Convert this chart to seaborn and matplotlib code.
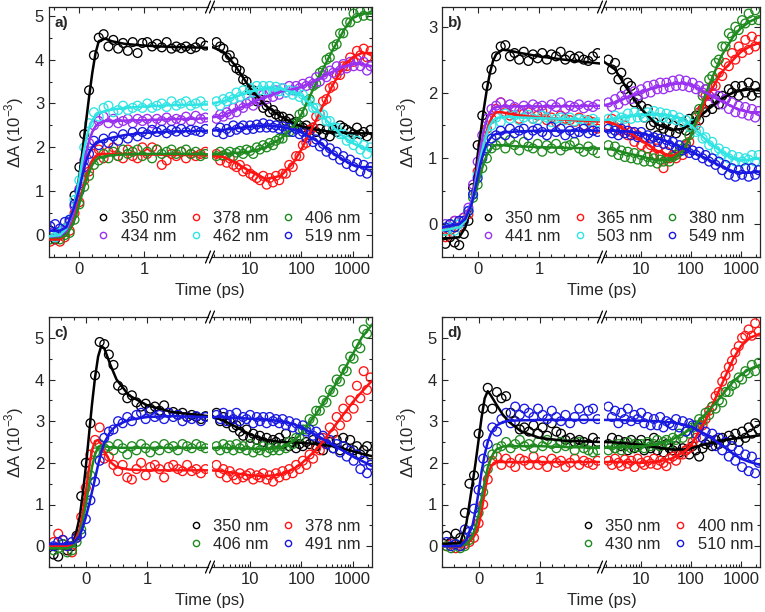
import matplotlib

matplotlib.use("Agg")
import matplotlib.pyplot as plt
import seaborn as sns
from matplotlib import ticker
from matplotlib.lines import Line2D

# Plot style
sns.set_style("ticks")
plt.rcParams["font.family"] = ["Liberation Sans", "DejaVu Sans"]
plt.rcParams["mathtext.fontset"] = "custom"
plt.rcParams["mathtext.rm"] = "Liberation Sans"
plt.rcParams["axes.linewidth"] = 0.9

W, H = 765, 612

# Time grids (ps): left segment linear, right segment log
T_LEFT = [-0.525, -0.45, -0.375, -0.3, -0.225, -0.15, -0.075, 0.0, 0.075, 0.15,
          0.225, 0.3, 0.375, 0.45, 0.525, 0.6, 0.675, 0.75, 0.825, 0.9,
          0.975, 1.05, 1.125, 1.2, 1.275, 1.35, 1.425, 1.5, 1.575, 1.65,
          1.725, 1.8, 1.875, 1.95]
T_RIGHT = [2.2, 2.6, 3.0, 3.5, 4.0, 4.7, 5.4, 6.3, 7.3, 8.5,
           10, 11.5, 13.5, 15.5, 18, 21, 24, 28, 32, 37,
           43, 50, 58, 68, 79, 92, 107, 125, 145, 170,
           195, 230, 265, 310, 360, 420, 490, 570, 660, 770,
           900, 1050, 1220, 1420, 1650, 1920, 2250]
FIT_T_LEFT = [-0.6, -0.3, -0.2, -0.1, -0.05, 0.0, 0.05, 0.1, 0.15, 0.2,
              0.25, 0.3, 0.4, 0.5, 0.7, 1.0, 1.4, 2.0]
FIT_T_RIGHT = [1.7, 3, 5, 10, 20, 40, 70, 100, 200, 400, 700, 1000, 1500, 2400]

BLACK = "#000000"
RED = "#ff1414"
GREEN = "#1f8a1f"
PURPLE = "#9a30f0"
CYAN = "#30e4e4"
BLUE = "#1818e0"

# ---------------- panel a ----------------
A350_L = [0.05, 0.1, -0.1, 0.05, 0.15, 0.3, 0.9, 1.55, 2.3, 3.3, 4.1, 4.5, 4.58, 4.3, 4.45, 4.25, 4.38, 4.2, 4.4, 4.15,
          4.38, 4.4, 4.3, 4.36, 4.28, 4.4, 4.25, 4.3, 4.26, 4.3, 4.24, 4.28, 4.4, 4.32]
A378_L = [-0.1, -0.15, -0.05, -0.15, -0.05, 0.1, 0.5, 0.75, 1.25, 1.45, 1.85, 1.95, 1.75, 1.9, 2.0, 1.8, 1.75, 1.95, 1.8, 1.75,
          2.0, 1.85, 2.0, 1.95, 1.6, 1.7, 1.85, 1.8, 1.9, 1.75, 1.85, 1.8, 1.85, 1.9]
A406_L = [-0.05, -0.1, -0.05, -0.1, 0.0, 0.05, 0.35, 0.7, 1.1, 1.35, 1.6, 1.7, 1.85, 1.75, 1.9, 1.8, 1.95, 1.85, 1.9, 1.95,
          1.8, 1.9, 1.75, 1.95, 1.85, 1.9, 1.95, 1.85, 1.9, 1.95, 1.85, 1.9, 1.8, 1.85]
A434_L = [0.0, 0.05, -0.05, 0.05, 0.1, 0.3, 0.65, 1.05, 1.7, 2.1, 2.5, 2.6, 2.7, 2.55, 2.65, 2.55, 2.6, 2.65, 2.55, 2.65,
          2.6, 2.65, 2.55, 2.65, 2.6, 2.68, 2.6, 2.65, 2.62, 2.7, 2.6, 2.72, 2.65, 2.68]
A462_L = [0.05, 0.0, -0.05, 0.05, 0.15, 0.35, 0.8, 1.25, 2.0, 2.55, 2.8, 2.7, 2.9, 2.95, 2.8, 2.85, 2.95, 2.85, 2.9, 2.95,
          2.9, 3.0, 2.9, 2.95, 3.0, 2.92, 3.05, 2.95, 3.0, 3.05, 2.95, 3.0, 3.05, 2.95]
A519_L = [0.15, 0.2, 0.25, 0.15, 0.3, 0.35, 0.7, 1.0, 1.55, 1.85, 2.15, 2.05, 2.2, 2.1, 2.25, 2.15, 2.3, 2.2, 2.35, 2.25,
          2.35, 2.3, 2.4, 2.35, 2.4, 2.32, 2.4, 2.36, 2.42, 2.35, 2.4, 2.38, 2.35, 2.42]
A350_R = [4.4, 4.3, 4.25, 4.05, 4.1, 3.95, 3.8, 3.75, 3.55, 3.5, 3.3, 3.3, 3.05, 3.1, 2.9, 2.95, 2.8, 2.85, 2.75, 2.7,
          2.7, 2.6, 2.65, 2.55, 2.58, 2.5, 2.45, 2.5, 2.4, 2.45, 2.35, 2.42, 2.3, 2.4, 2.25, 2.4, 2.35, 2.5, 2.45, 2.4,
          2.35, 2.3, 2.45, 2.3, 2.35, 2.25, 2.4]
A378_R = [1.85, 1.7, 1.8, 1.65, 1.75, 1.6, 1.55, 1.6, 1.45, 1.5, 1.4, 1.35, 1.3, 1.25, 1.35, 1.15, 1.3, 1.2, 1.35, 1.25,
          1.4, 1.4, 1.6, 1.55, 1.8, 1.8, 2.05, 2.1, 2.4, 2.45, 2.7, 2.75, 3.05, 3.1, 3.35, 3.4, 3.65, 3.65, 3.85, 3.85,
          4.05, 3.95, 4.2, 4.1, 4.25, 4.05, 4.2]
A406_R = [1.8, 1.9, 1.82, 1.85, 1.9, 1.8, 1.88, 1.92, 1.85, 1.95, 1.92, 1.85, 2.0, 1.95, 2.05, 2.0, 2.1, 2.05, 2.15, 2.2,
          2.2, 2.35, 2.35, 2.5, 2.55, 2.75, 2.8, 3.05, 3.1, 3.4, 3.45, 3.7, 3.75, 4.0, 4.05, 4.3, 4.35, 4.6, 4.6, 4.85,
          4.85, 5.05, 4.95, 5.1, 5.0, 5.15, 5.0]
A434_R = [2.65, 2.75, 2.7, 2.8, 2.75, 2.9, 2.8, 2.95, 2.9, 3.0, 3.05, 2.95, 3.1, 3.05, 3.2, 3.1, 3.25, 3.15, 3.3, 3.2,
          3.35, 3.25, 3.4, 3.3, 3.4, 3.35, 3.45, 3.4, 3.5, 3.45, 3.6, 3.5, 3.65, 3.6, 3.75, 3.7, 3.85, 3.75, 3.9, 3.8,
          3.95, 3.85, 4.0, 3.85, 3.95, 3.75, 3.85]
A462_R = [3.05, 2.95, 3.1, 3.05, 3.15, 3.1, 3.25, 3.15, 3.3, 3.2, 3.35, 3.25, 3.4, 3.3, 3.4, 3.3, 3.4, 3.3, 3.38, 3.28,
          3.35, 3.25, 3.3, 3.2, 3.28, 3.15, 3.2, 3.05, 3.05, 2.9, 2.9, 2.75, 2.75, 2.6, 2.6, 2.45, 2.45, 2.3, 2.3, 2.15,
          2.2, 2.05, 2.15, 1.95, 2.05, 1.85, 2.0]
A519_R = [2.35, 2.45, 2.3, 2.42, 2.35, 2.5, 2.4, 2.45, 2.5, 2.4, 2.5, 2.42, 2.52, 2.45, 2.55, 2.45, 2.52, 2.45, 2.5, 2.42,
          2.48, 2.4, 2.45, 2.35, 2.42, 2.3, 2.35, 2.22, 2.28, 2.12, 2.18, 2.02, 2.08, 1.9, 1.98, 1.82, 1.9, 1.72, 1.8, 1.62,
          1.72, 1.55, 1.65, 1.45, 1.6, 1.4, 1.55]
A350_FL = [-0.05, -0.05, 0.1, 0.55, 0.9, 1.35, 1.95, 2.55, 3.15, 3.7, 4.15, 4.42, 4.48, 4.42, 4.36, 4.32, 4.29, 4.27]
A378_FL = [-0.1, -0.1, 0.0, 0.3, 0.55, 0.8, 1.05, 1.3, 1.52, 1.7, 1.8, 1.84, 1.85, 1.85, 1.85, 1.84, 1.83, 1.82]
A406_FL = [-0.05, -0.05, 0.0, 0.25, 0.45, 0.72, 0.98, 1.22, 1.43, 1.6, 1.7, 1.76, 1.8, 1.82, 1.84, 1.85, 1.85, 1.84]
A434_FL = [-0.05, -0.02, 0.1, 0.45, 0.75, 1.1, 1.5, 1.85, 2.15, 2.35, 2.48, 2.55, 2.6, 2.6, 2.61, 2.62, 2.64, 2.66]
A462_FL = [-0.05, 0.0, 0.15, 0.55, 0.9, 1.3, 1.75, 2.15, 2.45, 2.62, 2.72, 2.78, 2.83, 2.86, 2.9, 2.93, 2.96, 2.98]
A519_FL = [0.1, 0.1, 0.18, 0.55, 0.8, 1.05, 1.38, 1.67, 1.88, 2.0, 2.08, 2.12, 2.18, 2.22, 2.28, 2.33, 2.36, 2.38]
A350_FR = [4.3, 4.18, 3.88, 3.35, 2.95, 2.7, 2.55, 2.48, 2.4, 2.35, 2.33, 2.32, 2.32, 2.32]
A378_FR = [1.82, 1.78, 1.66, 1.45, 1.28, 1.35, 1.65, 1.95, 2.65, 3.4, 3.88, 4.05, 4.15, 4.15]
A406_FR = [1.84, 1.85, 1.87, 1.9, 2.0, 2.2, 2.48, 2.75, 3.5, 4.2, 4.7, 4.95, 5.05, 5.05]
A434_FR = [2.68, 2.72, 2.85, 3.0, 3.15, 3.27, 3.33, 3.38, 3.53, 3.72, 3.85, 3.9, 3.9, 3.85]
A462_FR = [3.0, 3.05, 3.15, 3.27, 3.35, 3.33, 3.25, 3.18, 2.85, 2.48, 2.22, 2.1, 2.0, 1.95]
A519_FR = [2.38, 2.4, 2.43, 2.47, 2.5, 2.47, 2.4, 2.34, 2.15, 1.88, 1.7, 1.6, 1.55, 1.55]

# ---------------- panel b ----------------
B350_L = [-0.3, -0.2, -0.28, -0.32, -0.15, 0.05, 0.55, 1.2, 1.65, 2.1, 2.35, 2.55, 2.7, 2.72, 2.55, 2.6, 2.5, 2.62, 2.48, 2.58,
          2.52, 2.6, 2.5, 2.58, 2.55, 2.62, 2.5, 2.56, 2.52, 2.55, 2.5, 2.48, 2.55, 2.6]
B365_L = [-0.2, -0.1, 0.05, -0.05, 0.1, 0.15, 0.45, 0.8, 1.2, 1.45, 1.6, 1.75, 1.85, 1.7, 1.65, 1.75, 1.6, 1.68, 1.7, 1.6,
          1.65, 1.72, 1.58, 1.62, 1.55, 1.65, 1.6, 1.58, 1.55, 1.62, 1.5, 1.58, 1.55, 1.45]
B380_L = [-0.1, 0.0, -0.05, 0.05, 0.05, 0.2, 0.4, 0.6, 0.85, 1.0, 1.15, 1.2, 1.25, 1.15, 1.28, 1.2, 1.12, 1.25, 1.18, 1.15,
          1.22, 1.1, 1.2, 1.15, 1.22, 1.12, 1.18, 1.2, 1.25, 1.15, 1.1, 1.18, 1.12, 1.08]
B441_L = [0.0, -0.05, 0.05, 0.0, 0.1, 0.25, 0.6, 0.95, 1.35, 1.6, 1.75, 1.8, 1.85, 1.75, 1.82, 1.78, 1.72, 1.8, 1.75, 1.82,
          1.78, 1.8, 1.75, 1.82, 1.78, 1.85, 1.75, 1.8, 1.78, 1.82, 1.76, 1.8, 1.78, 1.82]
B503_L = [-0.1, -0.05, -0.1, 0.0, 0.05, 0.2, 0.45, 0.75, 1.15, 1.4, 1.5, 1.62, 1.55, 1.68, 1.6, 1.65, 1.58, 1.62, 1.66, 1.6,
          1.58, 1.65, 1.62, 1.55, 1.6, 1.62, 1.58, 1.62, 1.56, 1.6, 1.58, 1.55, 1.6, 1.55]
B549_L = [-0.05, 0.0, -0.05, 0.05, 0.05, 0.2, 0.45, 0.7, 1.0, 1.15, 1.3, 1.35, 1.42, 1.35, 1.45, 1.38, 1.42, 1.45, 1.35, 1.42,
          1.45, 1.4, 1.35, 1.48, 1.4, 1.45, 1.35, 1.42, 1.38, 1.4, 1.45, 1.38, 1.42, 1.4]
B350_R = [2.5, 2.35, 2.45, 2.2, 2.3, 2.05, 2.15, 2.1, 1.85, 1.9, 1.8, 1.62, 1.75, 1.5, 1.55, 1.35, 1.5, 1.45, 1.55, 1.4,
          1.5, 1.38, 1.45, 1.55, 1.42, 1.6, 1.5, 1.65, 1.58, 1.75, 1.7, 1.85, 1.75, 1.9, 1.82, 1.95, 1.9, 2.05, 2.0, 2.1,
          1.95, 2.1, 2.0, 2.15, 1.95, 2.1, 2.0]
B365_R = [1.5, 1.6, 1.48, 1.55, 1.42, 1.5, 1.35, 1.4, 1.25, 1.35, 1.2, 1.3, 1.15, 1.2, 1.05, 1.15, 1.05, 0.85, 1.1, 1.0,
          1.05, 1.0, 1.1, 1.05, 1.2, 1.25, 1.45, 1.5, 1.7, 1.75, 1.95, 1.95, 2.1, 2.1, 2.3, 2.25, 2.45, 2.4, 2.6, 2.5,
          2.7, 2.6, 2.8, 2.65, 2.85, 2.7, 2.8]
B380_R = [1.2, 1.1, 1.18, 1.05, 1.12, 1.02, 1.1, 1.0, 1.08, 0.98, 1.05, 0.95, 1.02, 0.95, 1.0, 0.92, 0.98, 0.95, 1.0, 0.95,
          1.02, 1.05, 1.1, 1.15, 1.22, 1.35, 1.45, 1.62, 1.75, 1.95, 2.05, 2.2, 2.25, 2.45, 2.5, 2.7, 2.7, 2.9, 2.85, 3.0,
          2.95, 3.1, 3.05, 3.2, 3.1, 3.25, 3.1]
B441_R = [1.85, 1.78, 1.9, 1.82, 1.95, 1.88, 1.98, 1.9, 2.02, 1.95, 2.05, 1.98, 2.1, 2.0, 2.12, 2.05, 2.15, 2.05, 2.15, 2.08,
          2.18, 2.1, 2.2, 2.1, 2.18, 2.08, 2.15, 2.05, 2.1, 2.0, 2.05, 1.95, 2.0, 1.88, 1.95, 1.82, 1.9, 1.75, 1.85, 1.7,
          1.8, 1.68, 1.78, 1.65, 1.75, 1.62, 1.72]
B503_R = [1.6, 1.55, 1.65, 1.58, 1.62, 1.6, 1.68, 1.6, 1.7, 1.62, 1.68, 1.62, 1.7, 1.65, 1.72, 1.62, 1.7, 1.62, 1.68, 1.6,
          1.66, 1.58, 1.62, 1.55, 1.58, 1.48, 1.52, 1.4, 1.42, 1.3, 1.32, 1.2, 1.25, 1.12, 1.15, 1.05, 1.1, 1.0, 1.05, 0.95,
          1.02, 0.95, 1.0, 0.98, 1.05, 0.95, 1.05]
B549_R = [1.45, 1.38, 1.42, 1.35, 1.45, 1.38, 1.42, 1.35, 1.4, 1.32, 1.4, 1.32, 1.35, 1.3, 1.32, 1.25, 1.3, 1.22, 1.28, 1.2,
          1.25, 1.15, 1.2, 1.12, 1.15, 1.08, 1.12, 1.05, 1.1, 1.0, 1.05, 0.95, 1.0, 0.9, 0.95, 0.82, 0.9, 0.75, 0.85, 0.72,
          0.82, 0.75, 0.85, 0.72, 0.85, 0.75, 0.82]
B350_FL = [-0.22, -0.2, -0.05, 0.3, 0.65, 1.05, 1.4, 1.75, 2.05, 2.3, 2.48, 2.58, 2.65, 2.64, 2.6, 2.55, 2.5, 2.44]
B365_FL = [-0.1, -0.05, 0.05, 0.3, 0.5, 0.75, 1.0, 1.22, 1.42, 1.56, 1.65, 1.7, 1.7, 1.68, 1.65, 1.62, 1.59, 1.56]
B380_FL = [-0.05, 0.0, 0.1, 0.3, 0.45, 0.6, 0.78, 0.93, 1.05, 1.13, 1.18, 1.2, 1.2, 1.19, 1.18, 1.17, 1.16, 1.15]
B441_FL = [-0.05, 0.0, 0.1, 0.35, 0.6, 0.9, 1.18, 1.42, 1.6, 1.7, 1.76, 1.78, 1.79, 1.79, 1.79, 1.79, 1.79, 1.8]
B503_FL = [-0.1, -0.05, 0.05, 0.3, 0.52, 0.78, 1.02, 1.22, 1.38, 1.5, 1.57, 1.61, 1.63, 1.63, 1.62, 1.61, 1.6, 1.58]
B549_FL = [-0.05, 0.0, 0.08, 0.3, 0.5, 0.72, 0.93, 1.1, 1.22, 1.3, 1.35, 1.37, 1.39, 1.4, 1.41, 1.42, 1.42, 1.42]
B350_FR = [2.48, 2.35, 2.08, 1.75, 1.52, 1.43, 1.45, 1.52, 1.72, 1.9, 2.0, 2.03, 2.05, 2.03]
B365_FR = [1.57, 1.52, 1.42, 1.28, 1.12, 1.03, 1.12, 1.35, 1.9, 2.3, 2.5, 2.62, 2.7, 2.76]
B380_FR = [1.15, 1.13, 1.08, 1.03, 0.97, 0.98, 1.12, 1.35, 2.0, 2.55, 2.85, 2.98, 3.08, 3.15]
B441_FR = [1.8, 1.85, 1.92, 2.01, 2.08, 2.13, 2.14, 2.12, 2.0, 1.87, 1.78, 1.73, 1.7, 1.7]
B503_FR = [1.58, 1.6, 1.63, 1.66, 1.67, 1.65, 1.58, 1.5, 1.28, 1.1, 1.0, 0.97, 0.98, 1.0]
B549_FR = [1.42, 1.42, 1.41, 1.38, 1.32, 1.23, 1.15, 1.1, 1.0, 0.88, 0.8, 0.78, 0.78, 0.8]

# ---------------- panel c ----------------
C350_L = [-0.2, -0.25, 0.05, -0.1, 0.0, 0.25, 1.2, 2.0, 2.95, 4.1, 4.9, 4.85, 4.6, 4.35, 3.85, 3.75, 3.55, 3.62, 3.45, 3.35,
          3.42, 3.3, 3.35, 3.25, 3.38, 3.2, 3.22, 3.15, 3.2, 3.1, 3.15, 3.1, 3.05, 3.12]
C378_L = [0.1, 0.3, 0.15, 0.0, -0.15, 0.2, 0.7, 1.4, 2.2, 2.55, 2.85, 2.1, 2.15, 1.95, 1.8, 1.95, 1.65, 1.6, 1.85, 2.0,
          1.7, 1.9, 1.95, 1.85, 1.65, 1.9, 1.95, 1.85, 1.8, 1.95, 1.8, 1.85, 1.75, 1.85]
C406_L = [-0.1, -0.05, 0.05, -0.15, -0.1, 0.1, 0.4, 1.05, 1.7, 2.25, 2.45, 2.35, 2.4, 2.3, 2.45, 2.35, 2.2, 2.4, 2.3, 2.45,
          2.35, 2.25, 2.4, 2.3, 2.45, 2.35, 2.4, 2.3, 2.45, 2.4, 2.35, 2.45, 2.4, 2.35]
C491_L = [0.0, 0.1, 0.15, 0.0, 0.1, 0.2, 0.3, 0.65, 1.1, 1.55, 2.05, 2.6, 2.75, 2.8, 3.0, 2.95, 3.1, 3.0, 3.15, 3.2,
          3.05, 3.25, 3.1, 3.15, 3.05, 3.2, 3.1, 3.15, 3.0, 3.1, 3.05, 3.12, 3.0, 3.1]
C350_R = [3.2, 3.0, 3.1, 2.95, 3.0, 2.85, 2.9, 2.75, 2.65, 2.8, 2.6, 2.7, 2.55, 2.65, 2.5, 2.6, 2.45, 2.55, 2.5, 2.6,
          2.45, 2.7, 2.4, 2.5, 2.35, 2.45, 2.4, 2.5, 2.45, 2.55, 2.4, 2.5, 2.3, 2.45, 2.5, 2.35, 2.55, 2.3, 2.6, 2.35,
          2.55, 2.3, 2.4, 2.2, 2.3, 2.4, 2.2]
C378_R = [1.95, 1.75, 1.85, 1.65, 1.8, 1.7, 1.6, 1.75, 1.65, 1.7, 1.75, 1.6, 1.7, 1.65, 1.75, 1.6, 1.7, 1.55, 1.75, 1.65,
          1.8, 1.7, 1.85, 1.75, 1.95, 1.85, 2.05, 1.95, 2.2, 2.1, 2.35, 2.3, 2.6, 2.45, 2.85, 2.7, 3.1, 2.9, 3.3, 3.1,
          3.5, 3.3, 3.85, 3.55, 4.2, 3.75, 4.05]
C406_R = [2.4, 2.3, 2.45, 2.35, 2.42, 2.3, 2.45, 2.35, 2.4, 2.3, 2.45, 2.25, 2.35, 2.3, 2.4, 2.25, 2.35, 2.3, 2.38, 2.3,
          2.4, 2.35, 2.5, 2.45, 2.6, 2.6, 2.8, 2.8, 3.05, 3.0, 3.25, 3.25, 3.5, 3.45, 3.75, 3.7, 4.0, 3.95, 4.25, 4.2,
          4.55, 4.5, 4.85, 4.75, 5.2, 5.1, 5.4]
C491_R = [3.15, 3.05, 3.2, 3.0, 3.15, 3.05, 3.2, 3.0, 3.1, 3.05, 3.15, 2.95, 3.1, 3.0, 3.1, 2.95, 3.1, 3.0, 3.05, 2.95,
          3.05, 2.9, 3.0, 2.85, 2.95, 2.8, 2.9, 2.75, 2.8, 2.65, 2.75, 2.6, 2.65, 2.45, 2.55, 2.35, 2.45, 2.25, 2.4, 2.15,
          2.3, 2.05, 2.2, 1.85, 2.05, 1.75, 1.95]
C350_FL = [-0.05, -0.05, 0.05, 0.7, 1.25, 1.9, 2.65, 3.4, 4.05, 4.55, 4.8, 4.75, 4.35, 4.0, 3.62, 3.38, 3.22, 3.12]
C378_FL = [0.0, 0.0, 0.05, 0.4, 0.8, 1.3, 1.85, 2.3, 2.52, 2.55, 2.45, 2.28, 2.02, 1.9, 1.84, 1.82, 1.82, 1.82]
C406_FL = [-0.05, -0.05, 0.0, 0.3, 0.6, 1.0, 1.45, 1.9, 2.2, 2.38, 2.42, 2.4, 2.37, 2.36, 2.36, 2.36, 2.36, 2.36]
C491_FL = [0.05, 0.05, 0.08, 0.25, 0.45, 0.7, 0.98, 1.3, 1.62, 1.95, 2.25, 2.48, 2.75, 2.9, 3.03, 3.1, 3.12, 3.1]
C350_FR = [3.12, 3.02, 2.88, 2.68, 2.55, 2.5, 2.49, 2.48, 2.45, 2.4, 2.33, 2.28, 2.22, 2.16]
C378_FR = [1.82, 1.8, 1.75, 1.7, 1.68, 1.72, 1.85, 1.98, 2.33, 2.8, 3.2, 3.45, 3.7, 3.97]
C406_FR = [2.36, 2.36, 2.35, 2.34, 2.33, 2.36, 2.52, 2.7, 3.2, 3.75, 4.25, 4.6, 5.0, 5.32]
C491_FR = [3.1, 3.1, 3.08, 3.06, 3.04, 3.0, 2.93, 2.85, 2.66, 2.44, 2.27, 2.16, 2.05, 1.92]

# ---------------- panel d ----------------
D350_L = [0.25, 0.1, 0.3, 0.2, 0.8, 1.5, 1.7, 2.7, 3.3, 3.8, 3.3, 3.7, 3.55, 3.6, 3.2, 3.0, 2.8, 2.85, 2.75, 2.9,
          2.7, 2.85, 2.65, 2.95, 2.75, 2.7, 2.55, 2.6, 2.5, 2.55, 2.5, 2.45, 2.6, 2.5]
D400_L = [0.0, 0.05, -0.05, 0.0, 0.05, 0.1, 0.2, 0.55, 1.0, 1.6, 2.05, 2.15, 1.95, 2.1, 2.0, 1.9, 2.1, 2.05, 1.95, 2.15,
          1.95, 2.05, 1.9, 2.1, 2.0, 2.05, 1.9, 2.0, 2.1, 1.95, 2.05, 2.0, 1.95, 2.05]
D430_L = [0.0, -0.05, 0.05, -0.05, 0.0, 0.15, 0.4, 0.8, 1.3, 1.85, 2.2, 2.35, 2.4, 2.5, 2.35, 2.45, 2.55, 2.4, 2.45, 2.35,
          2.5, 2.4, 2.55, 2.45, 2.35, 2.5, 2.4, 2.45, 2.3, 2.5, 2.35, 2.3, 2.25, 2.3]
D510_L = [0.1, 0.0, 0.05, 0.0, 0.4, 0.35, 0.9, 1.35, 2.1, 2.45, 2.85, 2.75, 3.05, 3.2, 2.95, 3.35, 3.15, 3.3, 3.2, 3.1,
          3.3, 3.15, 3.05, 3.25, 3.1, 3.0, 3.15, 2.95, 3.1, 3.3, 3.05, 3.25, 3.3, 3.05]
D350_R = [2.45, 2.6, 2.35, 2.55, 2.4, 2.5, 2.3, 2.55, 2.35, 2.45, 2.55, 2.3, 2.45, 2.35, 2.6, 2.3, 2.4, 2.25, 2.45, 2.35,
          2.3, 2.4, 2.25, 2.35, 2.3, 2.2, 2.4, 2.3, 2.15, 2.35, 2.45, 2.5, 2.4, 2.55, 2.45, 2.6, 2.5, 2.65, 2.55, 2.7,
          2.5, 2.75, 2.6, 2.85, 2.7, 2.95, 2.8]
D400_R = [2.05, 1.95, 2.1, 2.0, 1.92, 2.08, 1.98, 2.05, 1.9, 2.1, 2.0, 1.95, 2.05, 1.98, 2.1, 1.95, 2.05, 2.0, 1.92, 2.1,
          2.15, 2.05, 2.2, 2.2, 2.3, 2.35, 2.5, 2.6, 2.85, 2.9, 3.05, 3.25, 3.35, 3.6, 3.7, 3.95, 4.1, 4.3, 4.45, 4.65,
          4.8, 5.0, 5.05, 5.2, 5.05, 5.35, 5.15]
D430_R = [2.3, 2.42, 2.35, 2.45, 2.3, 2.4, 2.5, 2.35, 2.45, 2.38, 2.45, 2.35, 2.5, 2.4, 2.45, 2.55, 2.4, 2.5, 2.55, 2.45,
          2.6, 2.55, 2.7, 2.6, 2.75, 2.7, 2.85, 2.9, 3.05, 3.0, 3.2, 3.15, 3.35, 3.3, 3.5, 3.45, 3.7, 3.7, 3.85, 3.9,
          4.05, 4.0, 4.2, 4.15, 4.35, 4.2, 4.4]
D510_R = [3.35, 3.1, 3.25, 2.95, 3.2, 3.05, 3.3, 3.0, 3.15, 3.05, 3.2, 2.95, 3.1, 2.9, 3.05, 2.9, 3.1, 2.85, 3.0, 2.95,
          2.9, 3.05, 2.85, 3.0, 2.75, 2.95, 2.9, 2.7, 2.85, 2.6, 2.75, 2.55, 2.7, 2.4, 2.6, 2.3, 2.5, 2.15, 2.4, 2.05,
          2.3, 1.9, 2.2, 1.8, 2.15, 1.75, 2.0]
D350_FL = [0.05, 0.08, 0.55, 1.5, 2.0, 2.55, 3.1, 3.55, 3.72, 3.62, 3.5, 3.38, 3.15, 2.98, 2.75, 2.6, 2.53, 2.5]
D400_FL = [0.0, -0.02, 0.05, 0.18, 0.3, 0.5, 0.85, 1.3, 1.68, 1.9, 2.0, 2.02, 2.02, 2.02, 2.02, 2.02, 2.02, 2.02]
D430_FL = [0.0, 0.0, 0.05, 0.25, 0.45, 0.75, 1.15, 1.55, 1.88, 2.1, 2.25, 2.33, 2.39, 2.4, 2.4, 2.4, 2.38, 2.36]
D510_FL = [0.0, 0.0, 0.15, 0.5, 0.85, 1.3, 1.8, 2.2, 2.5, 2.7, 2.82, 2.9, 2.98, 3.01, 3.02, 3.03, 3.03, 3.03]
D350_FR = [2.5, 2.49, 2.47, 2.43, 2.37, 2.32, 2.32, 2.35, 2.45, 2.53, 2.58, 2.6, 2.63, 2.66]
D400_FR = [2.02, 2.02, 2.02, 2.0, 2.02, 2.1, 2.25, 2.42, 3.05, 3.85, 4.5, 4.8, 5.0, 5.1]
D430_FR = [2.36, 2.37, 2.38, 2.4, 2.44, 2.55, 2.7, 2.82, 3.18, 3.6, 3.95, 4.12, 4.25, 4.35]
D510_FR = [3.03, 3.03, 3.02, 3.01, 3.0, 2.97, 2.92, 2.87, 2.68, 2.43, 2.22, 2.1, 2.02, 1.95]


def series(label, color, pts_l, pts_r, fit_l, fit_r):
    assert len(pts_l) == len(T_LEFT), label
    assert len(pts_r) == len(T_RIGHT), label
    assert len(fit_l) == len(FIT_T_LEFT), label
    assert len(fit_r) == len(FIT_T_RIGHT), label
    return dict(label=label, color=color, pts_l=pts_l, pts_r=pts_r, fit_l=fit_l, fit_r=fit_r)


PANELS = [
    dict(letter="a)", px=(49, 208, 212, 372, 7, 257), xlim_l=(-0.47, 1.99), ylim=(-0.5, 5.2),
         yticks=[0, 1, 2, 3, 4, 5], ncol=3, order=[0, 3, 1, 4, 2, 5], leg=(361, 244),
         series=[series("350 nm", BLACK, A350_L, A350_R, A350_FL, A350_FR),
                 series("378 nm", RED, A378_L, A378_R, A378_FL, A378_FR),
                 series("406 nm", GREEN, A406_L, A406_R, A406_FL, A406_FR),
                 series("434 nm", PURPLE, A434_L, A434_R, A434_FL, A434_FR),
                 series("462 nm", CYAN, A462_L, A462_R, A462_FL, A462_FR),
                 series("519 nm", BLUE, A519_L, A519_R, A519_FL, A519_FR)]),
    dict(letter="b)", px=(442, 600, 604, 760, 7, 257), xlim_l=(-0.58, 1.99), ylim=(-0.5, 3.3),
         yticks=[0, 1, 2, 3], ncol=3, order=[0, 3, 1, 4, 2, 5], leg=(745, 244),
         series=[series("350 nm", BLACK, B350_L, B350_R, B350_FL, B350_FR),
                 series("365 nm", RED, B365_L, B365_R, B365_FL, B365_FR),
                 series("380 nm", GREEN, B380_L, B380_R, B380_FL, B380_FR),
                 series("441 nm", PURPLE, B441_L, B441_R, B441_FL, B441_FR),
                 series("503 nm", CYAN, B503_L, B503_R, B503_FL, B503_FR),
                 series("549 nm", BLUE, B549_L, B549_R, B549_FL, B549_FR)]),
    dict(letter="c)", px=(49, 208, 212, 372, 317, 567), xlim_l=(-0.6, 1.99), ylim=(-0.5, 5.5),
         yticks=[0, 1, 2, 3, 4, 5], ncol=2, order=[0, 2, 1, 3], leg=(361, 552),
         series=[series("350 nm", BLACK, C350_L, C350_R, C350_FL, C350_FR),
                 series("378 nm", RED, C378_L, C378_R, C378_FL, C378_FR),
                 series("406 nm", GREEN, C406_L, C406_R, C406_FL, C406_FR),
                 series("491 nm", BLUE, C491_L, C491_R, C491_FL, C491_FR)]),
    dict(letter="d)", px=(442, 600, 604, 760, 317, 567), xlim_l=(-0.6, 1.99), ylim=(-0.5, 5.5),
         yticks=[0, 1, 2, 3, 4, 5], ncol=2, order=[0, 2, 1, 3], leg=(753, 552),
         series=[series("350 nm", BLACK, D350_L, D350_R, D350_FL, D350_FR),
                 series("400 nm", RED, D400_L, D400_R, D400_FL, D400_FR),
                 series("430 nm", GREEN, D430_L, D430_R, D430_FL, D430_FR),
                 series("510 nm", BLUE, D510_L, D510_R, D510_FL, D510_FR)]),
]


def to_fig(x0, x1, y0, y1):
    return [x0 / W, 1 - y1 / H, (x1 - x0) / W, (y1 - y0) / H]


def break_marks(ax, x, w_px, h_px):
    dx = 2.5 / w_px
    dy = 6.0 / h_px
    for y in (0, 1):
        ax.plot([x - dx, x + dx], [y - dy, y + dy], transform=ax.transAxes,
                color="k", lw=0.9, clip_on=False, zorder=5)


fig = plt.figure(figsize=(W / 100, H / 100), dpi=100)

for p in PANELS:
    xl0, xl1, xr0, xr1, y0, y1 = p["px"]
    ax_l = fig.add_axes(to_fig(xl0, xl1, y0, y1))
    ax_r = fig.add_axes(to_fig(xr0, xr1, y0, y1))
    ax_r.set_xscale("log")

    # data points first, fits on top
    for s in p["series"]:
        for ax, t, v in ((ax_l, T_LEFT, s["pts_l"]), (ax_r, T_RIGHT, s["pts_r"])):
            sns.scatterplot(x=t, y=v, ax=ax, s=40, marker="o", facecolor="none",
                            edgecolor=s["color"], linewidth=0.95, zorder=2, legend=False)
    for s in p["series"]:
        for ax, t, v in ((ax_l, FIT_T_LEFT, s["fit_l"]), (ax_r, FIT_T_RIGHT, s["fit_r"])):
            sns.lineplot(x=t, y=v, ax=ax, color=s["color"], linewidth=1.8,
                         estimator=None, sort=False, legend=False, zorder=3)

    for ax in (ax_l, ax_r):
        ax.set_ylim(*p["ylim"])
        ax.yaxis.set_major_locator(ticker.FixedLocator(p["yticks"]))
        ax.yaxis.set_minor_locator(ticker.MultipleLocator(0.5))
        ax.set_xlabel("")
        ax.set_ylabel("")
        ax.tick_params(which="major", length=4, width=0.8, direction="in", labelsize=12)
        ax.tick_params(which="minor", length=2.3, width=0.8, direction="in")

    ax_l.set_xlim(*p["xlim_l"])
    ax_l.xaxis.set_major_locator(ticker.FixedLocator([0, 1]))
    ax_l.xaxis.set_minor_locator(ticker.MultipleLocator(0.2))
    ax_l.spines["right"].set_visible(False)
    ax_l.tick_params(which="both", top=True, bottom=True, left=True, right=False)

    ax_r.set_xlim(1.8, 2400)
    ax_r.xaxis.set_major_locator(ticker.FixedLocator([10, 100, 1000]))
    ax_r.xaxis.set_major_formatter(ticker.FuncFormatter(lambda v, pos: f"{v:g}"))
    ax_r.xaxis.set_minor_locator(ticker.LogLocator(base=10, subs=[2, 3, 4, 5, 6, 7, 8, 9]))
    ax_r.xaxis.set_minor_formatter(ticker.NullFormatter())
    ax_r.spines["left"].set_visible(False)
    ax_r.tick_params(which="both", top=True, bottom=True, left=False, right=True, labelleft=False)

    break_marks(ax_l, 1.0, xl1 - xl0, y1 - y0)
    break_marks(ax_r, 0.0, xr1 - xr0, y1 - y0)

    ax_l.set_ylabel(r"$\Delta$A (10$^{\mathregular{-3}}$)", fontsize=12, labelpad=6)
    ax_l.text(0.035, 0.965, p["letter"], transform=ax_l.transAxes, ha="left", va="top",
              fontsize=11, fontweight="bold")
    fig.text((xl1 + xr0) / 2 / W, 1 - (y1 + 34) / H, "Time (ps)", ha="center", va="center", fontsize=12)

    handles = [Line2D([], [], ls="none", marker="o", ms=4.5, mfc="none", mec=s["color"], mew=1.0)
               for s in p["series"]]
    labels = [s["label"] for s in p["series"]]
    order = p["order"]
    ax_r.legend([handles[i] for i in order], [labels[i] for i in order], ncol=p["ncol"],
                loc="lower right", bbox_to_anchor=(p["leg"][0] / W, 1 - p["leg"][1] / H),
                bbox_transform=fig.transFigure, frameon=False, fontsize=12,
                handlelength=0.9, handletextpad=0.6, columnspacing=0.7, labelspacing=0.2,
                borderpad=0, borderaxespad=0)

fig.savefig("out.png", dpi=100)
